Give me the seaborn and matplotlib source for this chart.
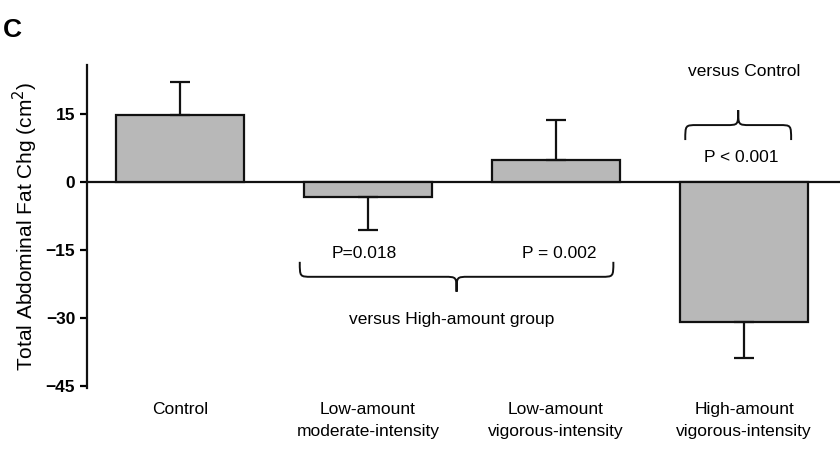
import matplotlib
matplotlib.use("Agg")
import matplotlib.pyplot as plt
import seaborn as sns
import pandas as pd
from matplotlib.path import Path
from matplotlib.patches import PathPatch

groups = ["Control", "Low-amount\nmoderate-intensity", "Low-amount\nvigorous-intensity", "High-amount\nvigorous-intensity"]
means = [14.8, -3.2, 4.8, -30.8]
errs = [7.2, 7.3, 8.8, 7.9]

sns.set_style("white")
plt.rcParams["font.family"] = ["Liberation Sans", "DejaVu Sans"]
plt.rcParams["text.color"] = "black"
plt.rcParams["axes.labelcolor"] = "black"
plt.rcParams["xtick.color"] = "black"
plt.rcParams["ytick.color"] = "black"

df = pd.DataFrame({"group": groups, "chg": means})
fig = plt.figure(figsize=(8.4, 4.59), dpi=100)
ax = fig.add_axes([0.1036, 0.155, 0.8964, 0.703])
sns.barplot(data=df, x="group", y="chg", color="#b8b8b8", edgecolor="#111111",
            linewidth=1.6, width=0.68, saturation=1, ax=ax)
for i, (m, e) in enumerate(zip(means, errs)):
    ax.errorbar(i, m, yerr=[[0], [e]] if m >= 0 else [[e], [0]], fmt="none",
                ecolor="#111111", elinewidth=1.6, capsize=7, capthick=1.6)

ax.axhline(0, color="#111111", lw=1.6, zorder=0)
ax.set_xlim(-0.494, 3.51)
ax.set_ylim(-45.3, 25.7)
ax.set_yticks([15, 0, -15, -30, -45])
ax.tick_params(axis="y", direction="out", length=5, width=1.6, labelsize=12.5, left=True)
for t in ax.get_yticklabels():
    t.set_fontweight("bold")
ax.tick_params(axis="x", length=0, labelsize=12.5, pad=10)
for t in ax.get_xticklabels():
    t.set_linespacing(1.6)
for s in ["top", "right", "bottom"]:
    ax.spines[s].set_visible(False)
ax.spines["left"].set_linewidth(1.6)
ax.spines["left"].set_color("#111111")
ax.set_xlabel("")
ax.set_ylabel("Total Abdominal Fat Chg (cm$^2$)", fontsize=15, labelpad=4)


def px(x, y):
    return ((x - 180) / 188.3, (182 - y) / 4.553)


def brace(x0, x1, y_base, y_tip, ax):
    xm = (x0 + x1) / 2
    ymid = (y_base + y_tip) / 2
    r = 8
    verts = [px(x0, y_base), px(x0, ymid), px(x0, ymid), px(x0 + r * 1.5, ymid),
             px(xm - r * 1.5, ymid), px(xm, ymid), px(xm, ymid), px(xm, y_tip),
             px(xm, ymid), px(xm, ymid), px(xm + r * 1.5, ymid),
             px(x1 - r * 1.5, ymid), px(x1, ymid), px(x1, ymid), px(x1, y_base)]
    codes = [Path.MOVETO, Path.CURVE4, Path.CURVE4, Path.CURVE4,
             Path.LINETO, Path.CURVE4, Path.CURVE4, Path.CURVE4,
             Path.CURVE4, Path.CURVE4, Path.CURVE4,
             Path.LINETO, Path.CURVE4, Path.CURVE4, Path.CURVE4]
    ax.add_patch(PathPatch(Path(verts, codes), fill=False, lw=1.4, color="#111111", clip_on=False))


brace(686, 792, 140, 110, ax)
brace(300, 614, 262, 292, ax)

ax.text(*px(745, 71), "versus Control", ha="center", va="center", fontsize=12.5)
ax.text(*px(742, 157), "P < 0.001", ha="center", va="center", fontsize=12.5)
ax.text(*px(365, 254), "P=0.018", ha="center", va="center", fontsize=12.5)
ax.text(*px(560, 254), "P = 0.002", ha="center", va="center", fontsize=12.5)
ax.text(*px(452, 320), "versus High-amount group", ha="center", va="center", fontsize=12.5)
fig.text(0.004, 0.96, "C", ha="left", va="top", fontsize=19, fontweight="bold")

fig.savefig("out.png", dpi=100)
